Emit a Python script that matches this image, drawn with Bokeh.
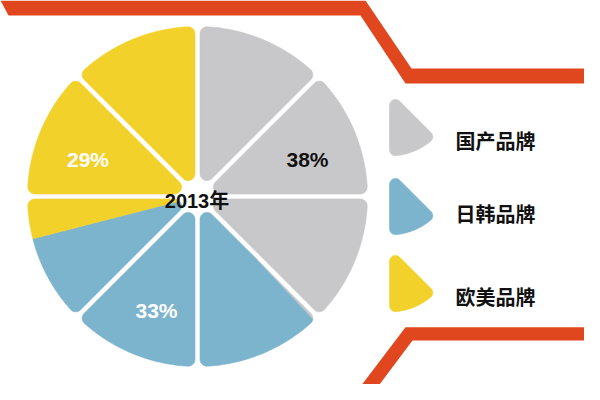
import numpy as np
from bokeh.plotting import figure
from bokeh.models import Range1d
from bokeh.core.properties import value
from bokeh.embed import file_html
from bokeh.resources import INLINE

# ---- data ----
categories = ["国产品牌", "日韩品牌", "欧美品牌"]
shares = [38, 33, 29]
share_labels = ["38%", "33%", "29%"]
colors = ["#c8c8ca", "#7db4cd", "#f2d12b"]
label_colors = ["#111111", "#ffffff", "#ffffff"]
center_label = "2013年"
n_sectors = 8

# ---- layout (reference pixel coords, y down) ----
W, H = 600, 400
PW, PH = 584, 384
def Y(sy):
    return H - np.asarray(sy, dtype=float)

CX, CY = 197.0, float(Y(196))
R_OUT = 170.0
HALF_GAP = 2.5
RC = 7.0
START_ANGLE = 90.0

share_label_pos = [(307, 158.5), (156, 310), (87.5, 159)]
legend_icon_top = [90.5, 169.5, 246.5]
legend_icon_x = 389.0
legend_label_pos = [(455, 140), (455, 213), (455, 296)]
center_label_pos = (196.5, 200)


def arc(cx, cy, r, a_from, a_to, n=20):
    t = np.linspace(a_from, a_to, n)
    return np.column_stack([cx + r * np.cos(t), cy + r * np.sin(t)])


def rounded_sector(cx, cy, t0, t1, R, h, rc):
    a0, a1 = np.radians(t0), np.radians(t1)
    half = (a1 - a0) / 2
    d = h + rc
    s = d / np.sin(half)
    mid = a0 + half
    P = np.array([cx + s * np.cos(mid), cy + s * np.sin(mid)])
    Ri = R - rc
    t = np.sqrt(Ri ** 2 - d ** 2)
    u0 = np.array([np.cos(a0), np.sin(a0)]); v0 = np.array([-np.sin(a0), np.cos(a0)])
    u1 = np.array([np.cos(a1), np.sin(a1)]); v1 = np.array([-np.sin(a1), np.cos(a1)])
    A = np.array([cx, cy]) + t * u0 + d * v0
    B = np.array([cx, cy]) + t * u1 - d * v1
    dphi = np.arctan2(d, t)
    phiA, phiB = a0 + dphi, a1 - dphi
    pts = [
        arc(P[0], P[1], rc, a1 + np.pi / 2, a0 + 1.5 * np.pi),
        arc(A[0], A[1], rc, a0 - np.pi / 2, phiA),
        arc(cx, cy, R, phiA, phiB, 60),
        arc(B[0], B[1], rc, phiB, a1 + np.pi / 2),
    ]
    return np.vstack(pts)


def clip(poly, f):
    out = []
    n = len(poly)
    for i in range(n):
        p_, q_ = poly[i], poly[(i + 1) % n]
        fp, fq = f(p_), f(q_)
        if fp >= 0:
            out.append(p_)
        if (fp >= 0) != (fq >= 0):
            tt = fp / (fp - fq)
            out.append(p_ + tt * (q_ - p_))
    return np.array(out)


p = figure(width=PW, height=PH, output_backend="svg", toolbar_location=None,
           x_range=Range1d(0, PW), y_range=Range1d(H - PH, H), min_border=0)
p.axis.visible = False
p.grid.visible = False
p.outline_line_color = None
p.background_fill_color = "white"
p.border_fill_color = "white"

# decorative stripes
ORANGE = "#e1471f"
top_x = [0, 365, 411, 591, 600, 405, 360, 8]
top_y = [0, 0, 68, 68, 83, 83, 15, 15]
bot_x = [195, 360, 405, 600, 592, 412, 367, 187]
bot_y = [386, 386, 326.7, 326.7, 340, 340, 400, 400]
p.patch(top_x, list(Y(top_y)), fill_color=ORANGE, line_color=None)
p.patch(bot_x, list(Y(bot_y)), fill_color=ORANGE, line_color=None)

# color ranges (clockwise from top)
cum = np.cumsum([0] + shares) / sum(shares) * 360.0
ranges = [(START_ANGLE - cum[i + 1], START_ANGLE - cum[i]) for i in range(len(shares))]

xs, ys, fills = [], [], []
step = 360.0 / n_sectors
for k in range(n_sectors):
    t1 = START_ANGLE - step * k
    t0 = t1 - step
    poly = rounded_sector(CX, CY, t0, t1, R_OUT, HALF_GAP, RC)
    for (a, b), col in zip(ranges, colors):
        lo, hi = max(a, t0), min(b, t1)
        if hi - lo <= 1e-6:
            continue
        la, lb = np.radians(lo), np.radians(hi)
        f_lo = lambda X, la=la: np.cos(la) * (X[1] - CY) - np.sin(la) * (X[0] - CX) + 1e-9
        f_hi = lambda X, lb=lb: -(np.cos(lb) * (X[1] - CY) - np.sin(lb) * (X[0] - CX)) + 1e-9
        piece = clip(clip(poly, f_lo), f_hi)
        if len(piece) < 3:
            continue
        xs.append(list(piece[:, 0])); ys.append(list(piece[:, 1])); fills.append(col)

p.patches(xs, ys, fill_color=fills, line_color=fills, line_width=0.6)

FONT = value("Liberation Sans, Noto Sans CJK SC")
CJK = value("Noto Sans CJK SC")

# share labels
p.text(x=[q[0] for q in share_label_pos], y=list(Y([q[1] for q in share_label_pos])),
       text=share_labels, text_color=label_colors, text_font=FONT,
       text_font_style="bold", text_font_size="21px",
       text_align="center", text_baseline="middle")

# center label
p.text(x=[center_label_pos[0]], y=list(Y([center_label_pos[1]])), text=[center_label],
       text_color="#111111", text_font=FONT, text_font_style="bold",
       text_font_size="20px", text_align="center", text_baseline="middle")

# legend icons
for top, col in zip(legend_icon_top, colors):
    icon = rounded_sector(legend_icon_x, float(Y(top)), -90.0, -45.0, 65.0, 0.0, 6.0)
    p.patch(list(icon[:, 0]), list(icon[:, 1]), fill_color=col, line_color=col, line_width=0.6)

p.text(x=[q[0] for q in legend_label_pos], y=list(Y([q[1] for q in legend_label_pos])),
       text=categories, text_color="#111111", text_font=CJK, text_font_style="bold",
       text_font_size="20px", text_align="left", text_baseline="middle")

open("out.html", "w").write(file_html(p, INLINE))
